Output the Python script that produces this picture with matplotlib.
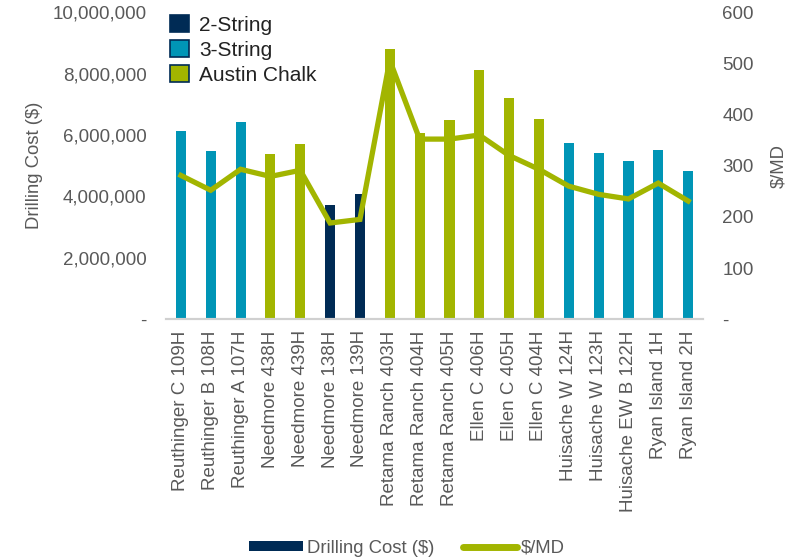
import matplotlib
matplotlib.use("Agg")
import matplotlib.pyplot as plt
from matplotlib.patches import Patch
from matplotlib.lines import Line2D
from matplotlib.ticker import FuncFormatter

plt.rcParams['font.family'] = ['Liberation Sans', 'DejaVu Sans']

wells = ["Reuthinger C 109H", "Reuthinger B 108H", "Reuthinger A 107H",
         "Needmore 438H", "Needmore 439H", "Needmore 138H", "Needmore 139H",
         "Retama Ranch 403H", "Retama Ranch 404H", "Retama Ranch 405H",
         "Ellen C 406H", "Ellen C 405H", "Ellen C 404H",
         "Huisache W 124H", "Huisache W 123H", "Huisache EW B 122H",
         "Ryan Island 1H", "Ryan Island 2H"]
types = ["3-String", "3-String", "3-String", "Austin Chalk", "Austin Chalk",
         "2-String", "2-String", "Austin Chalk", "Austin Chalk", "Austin Chalk",
         "Austin Chalk", "Austin Chalk", "Austin Chalk",
         "3-String", "3-String", "3-String", "3-String", "3-String"]
drilling_cost = [6120000, 5470000, 6420000, 5370000, 5700000, 3710000, 4070000,
                 8790000, 6060000, 6480000, 8110000, 7200000, 6510000,
                 5730000, 5410000, 5150000, 5500000, 4820000]
cost_per_md = [281, 252, 293, 279, 291, 188, 195, 506, 352, 352, 360, 320, 293,
               260, 244, 235, 266, 231]

colors = {"2-String": "#002B55", "3-String": "#0095B6", "Austin Chalk": "#A2B500"}
text_c = "#595959"

fig = plt.figure(figsize=(7.98, 5.57), dpi=100)
ax = fig.add_axes([0.208, 0.427, 0.673, 0.551])
ax2 = ax.twinx()

x = list(range(len(wells)))
ax.bar(x, drilling_cost, width=0.34, color=[colors[t] for t in types], zorder=2)
ax.set_xlim(-0.5, len(wells) - 0.5)
ax.set_ylim(0, 10000000)
ax.set_yticks(range(0, 10000001, 2000000))
ax.yaxis.set_major_formatter(FuncFormatter(lambda v, p: "-" if v == 0 else f"{int(v):,}"))
ax.set_xticks(x)
ax.set_xticklabels(wells, rotation=90, fontsize=13.5, color=text_c)
ax.tick_params(axis='both', length=0, labelsize=13.5, labelcolor=text_c)
ax.tick_params(axis='x', pad=8)
ax.tick_params(axis='y', pad=14)
ax.set_ylabel("Drilling Cost ($)", fontsize=13.3, color=text_c, labelpad=7)

ax2.plot(x, cost_per_md, color="#A2B500", lw=3.8, zorder=3, solid_joinstyle='miter')
ax2.set_ylim(0, 600)
ax2.set_yticks(range(0, 601, 100))
ax2.yaxis.set_major_formatter(FuncFormatter(lambda v, p: "-" if v == 0 else f"{int(v)}"))
ax2.tick_params(axis='y', length=0, labelsize=13.5, labelcolor=text_c, pad=14)
ax2.set_ylabel("$/MD", fontsize=13.3, color=text_c, labelpad=12)

for a in (ax, ax2):
    for s in ("top", "left", "right"):
        a.spines[s].set_visible(False)
    a.spines["bottom"].set_color("#D0D0D0")
    a.spines["bottom"].set_linewidth(1.5)

type_handles = [Patch(facecolor=colors[k], edgecolor="#002B55", linewidth=1.2, label=k)
                for k in ["2-String", "3-String", "Austin Chalk"]]
ax.legend(handles=type_handles, loc="upper left", bbox_to_anchor=(-0.008, 1.018),
          frameon=False, fontsize=15, handlelength=0.9, handleheight=0.9,
          handletextpad=0.5, labelspacing=0.25, labelcolor="#222222", borderaxespad=0)

bottom_handles = [Patch(facecolor="#002B55", edgecolor="none", label="Drilling Cost ($)"),
                  Line2D([0], [0], color="#A2B500", lw=5, solid_capstyle='round', label="$/MD")]
fig.legend(handles=bottom_handles, loc="center", bbox_to_anchor=(0.51, 0.016),
           ncol=2, frameon=False, fontsize=13.3, handlelength=2.9, handleheight=0.45,
           handletextpad=0.2, columnspacing=1.6, labelcolor=text_c)

fig.savefig("out.png", dpi=100)
